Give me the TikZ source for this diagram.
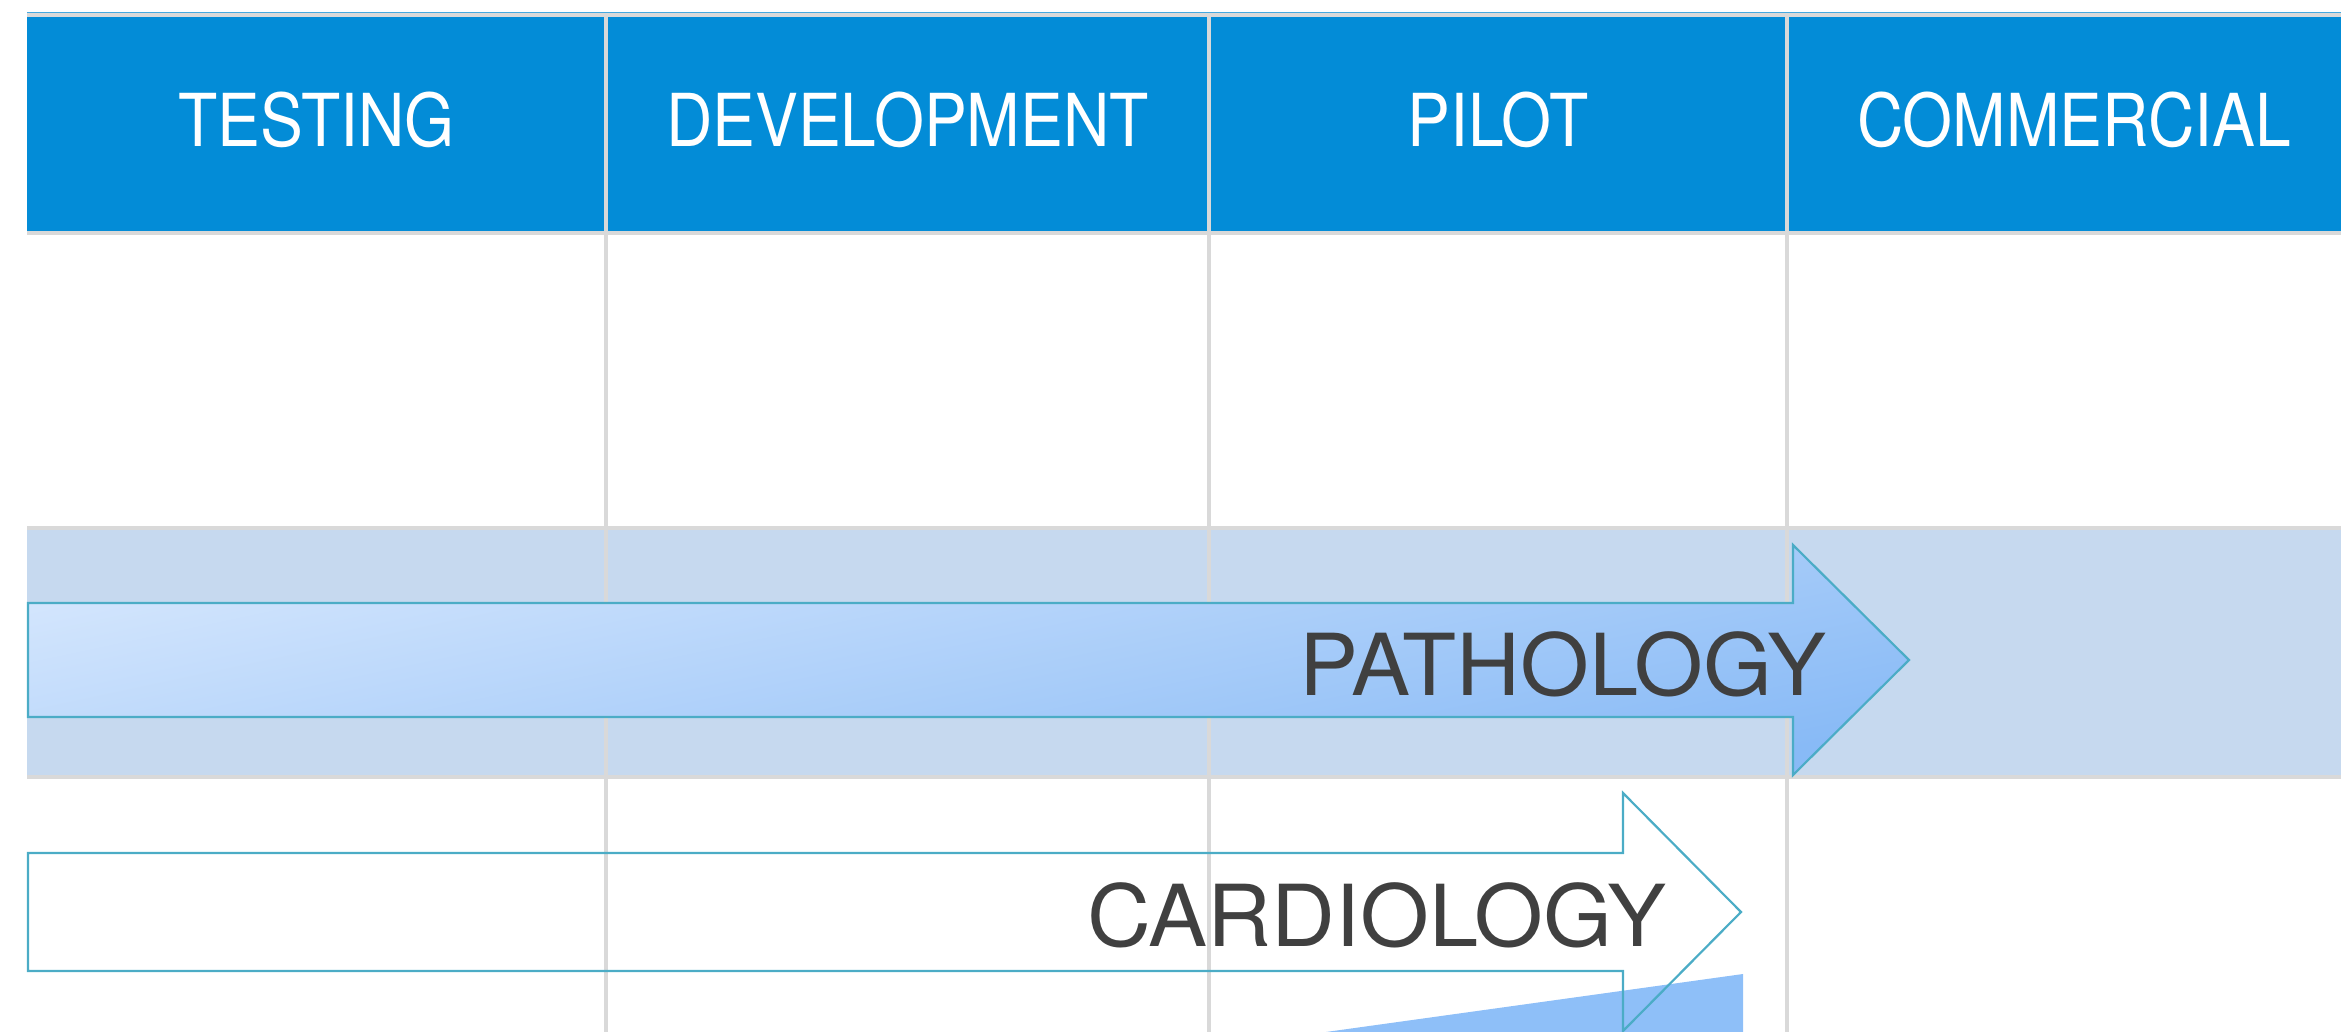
\documentclass[tikz,border=0pt]{standalone}
\usepackage{fontspec}
\setmainfont{TeX Gyre Heros}
\newfontfamily\hdrfont[FakeStretch=0.88]{TeX Gyre Heros}
\newfontfamily\lblfont[FakeStretch=1.035]{TeX Gyre Heros}
\definecolor{hdrblue}{HTML}{038CD7}
\definecolor{topline}{HTML}{45A8E0}
\definecolor{gridgray}{HTML}{D9D9D9}
\definecolor{bandblue}{HTML}{C6D9EF}
\definecolor{teal}{HTML}{4BACC6}
\definecolor{lightfill}{HTML}{D4E6FD}
\definecolor{darkfill}{HTML}{88BAF6}
\definecolor{wedgeblue}{HTML}{8EBFF8}
\definecolor{txtgray}{HTML}{404040}
\tikzset{
  hdrtext/.style={font=\hdrfont\fontsize{73}{73}\selectfont, text=white, inner sep=0pt, anchor=base},
  lbltext/.style={font=\lblfont\fontsize{85.5}{85.5}\selectfont, text=txtgray, inner sep=0pt, anchor=base},
  gridline/.style={draw=gridgray, line width=4pt},
  arrowline/.style={draw=teal, line width=2.2pt, line join=miter},
}
\begin{document}
\begin{tikzpicture}[x=1pt,y=-1pt]
\useasboundingbox (0,0) rectangle (2341,1031);
\clip (0,0) rectangle (2341,1031);
% header
\fill[gridgray] (27,13) rectangle (2341,235);
\fill[hdrblue] (27,17) rectangle (2341,231);
\draw[topline, line width=1.2pt] (27,12.4) -- (2341,12.4);
% band
\fill[gridgray] (27,526) rectangle (2341,779);
\fill[bandblue] (27,530) rectangle (2341,775);
% dividers
\coordinate (d1t) at (606,15); \coordinate (d1b) at (606,1040);
\coordinate (d2t) at (1209,15); \coordinate (d2b) at (1209,1040);
\coordinate (d3t) at (1787,15); \coordinate (d3b) at (1787,1040);
\draw[gridline] (d1t) -- (d1b);
\draw[gridline] (d2t) -- (d2b);
\draw[gridline] (d3t) -- (d3b);
% header labels
\node[hdrtext] (testing) at (316.5,146) {TESTING};
\node[hdrtext] (development) at (907.5,146) {DEVELOPMENT};
\node[hdrtext] (pilot) at (1498,146) {PILOT};
\node[hdrtext] (commercial) at (2074,146) {COMMERCIAL};
% pathology arrow
\path[arrowline, top color=lightfill, bottom color=darkfill, shading angle=12]
  (28,603) -- (1793,603) -- (1793,545) -- (1909,660) -- (1793,775) -- (1793,717) -- (28,717) -- cycle;
\node[lbltext] (pathology) at (1563,695) {PATHOLOGY};
% wedge of next arrow
\fill[wedgeblue] (1300,1035.6) -- (1743,974) -- (1743,1040) -- (1300,1040) -- cycle;
% cardiology arrow
\path[arrowline]
  (28,853) -- (1623,853) -- (1623,793) -- (1741,912) -- (1623,1031) -- (1623,971) -- (28,971) -- cycle;
\node[lbltext] (cardiology) at (1377,946) {CARDIOLOGY};
\end{tikzpicture}
\end{document}
